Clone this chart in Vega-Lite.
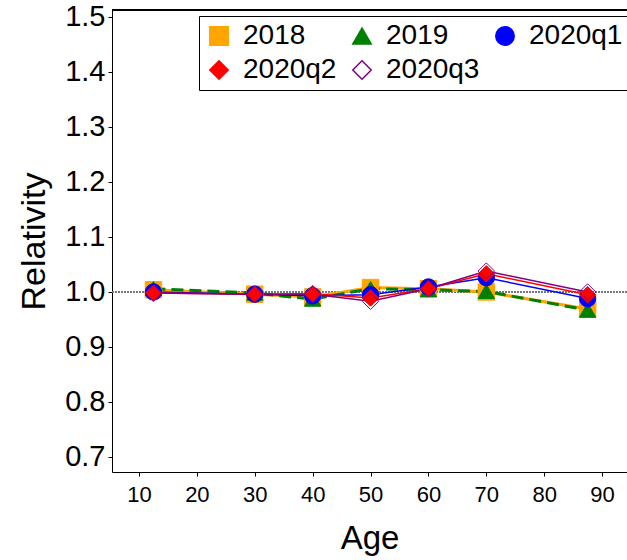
{
  "$schema": "https://vega.github.io/schema/vega-lite/v6.json",
  "width": 515,
  "height": 462,
  "autosize": {"type": "none"},
  "padding": {"left": 112, "top": 10, "right": 0, "bottom": 88},
  "background": "white",
  "config": {
    "view": {"stroke": null},
    "font": "Liberation Sans",
    "axis": {"grid": false, "domainColor": "black", "tickColor": "black", "labelColor": "black", "titleColor": "black", "titleFontWeight": "normal", "labelFont": "Liberation Sans", "titleFont": "Liberation Sans"},
    "legend": {"labelFont": "Liberation Sans"}
  },
  "data": {"values": [
    {"series": "2018", "age": 12.5, "rel": 1.004},
    {"series": "2018", "age": 30, "rel": 0.996},
    {"series": "2018", "age": 40, "rel": 0.991},
    {"series": "2018", "age": 50, "rel": 1.008},
    {"series": "2018", "age": 60, "rel": 1.006},
    {"series": "2018", "age": 70, "rel": 1.000},
    {"series": "2018", "age": 87.5, "rel": 0.969},
    {"series": "2019", "age": 12.5, "rel": 1.006},
    {"series": "2019", "age": 30, "rel": 0.998},
    {"series": "2019", "age": 40, "rel": 0.987},
    {"series": "2019", "age": 50, "rel": 1.006},
    {"series": "2019", "age": 60, "rel": 1.004},
    {"series": "2019", "age": 70, "rel": 1.001},
    {"series": "2019", "age": 87.5, "rel": 0.967},
    {"series": "2020q1", "age": 12.5, "rel": 1.000},
    {"series": "2020q1", "age": 30, "rel": 0.996},
    {"series": "2020q1", "age": 40, "rel": 0.993},
    {"series": "2020q1", "age": 50, "rel": 0.995},
    {"series": "2020q1", "age": 60, "rel": 1.009},
    {"series": "2020q1", "age": 70, "rel": 1.026},
    {"series": "2020q1", "age": 87.5, "rel": 0.988},
    {"series": "2020q2", "age": 12.5, "rel": 0.998},
    {"series": "2020q2", "age": 30, "rel": 0.996},
    {"series": "2020q2", "age": 40, "rel": 0.997},
    {"series": "2020q2", "age": 50, "rel": 0.989},
    {"series": "2020q2", "age": 60, "rel": 1.006},
    {"series": "2020q2", "age": 70, "rel": 1.033},
    {"series": "2020q2", "age": 87.5, "rel": 0.995},
    {"series": "2020q3", "age": 12.5, "rel": 0.998},
    {"series": "2020q3", "age": 30, "rel": 0.996},
    {"series": "2020q3", "age": 40, "rel": 0.996},
    {"series": "2020q3", "age": 50, "rel": 0.983},
    {"series": "2020q3", "age": 60, "rel": 1.006},
    {"series": "2020q3", "age": 70, "rel": 1.038},
    {"series": "2020q3", "age": 87.5, "rel": 1.000}
  ]},
  "encoding": {
    "x": {"field": "age", "type": "quantitative", "scale": {"domain": [5.34, 94.3], "nice": false, "zero": false},
      "axis": {"values": [10, 20, 30, 40, 50, 60, 70, 80, 90], "labelFontSize": 22, "tickSize": 4, "labelPadding": 8, "title": "Age", "titleFontSize": 33, "titlePadding": 17}},
    "y": {"field": "rel", "type": "quantitative", "scale": {"domain": [0.6727, 1.5127], "nice": false, "zero": false},
      "axis": {"values": [0.7, 0.8, 0.9, 1.0, 1.1, 1.2, 1.3, 1.4, 1.5], "format": ".1f", "labelFontSize": 29, "tickSize": 4, "labelPadding": 3, "title": "Relativity", "titleFontSize": 34, "titlePadding": 13}}
  },
  "layer": [
    {
      "mark": {"type": "rule", "color": "#777777", "strokeDash": [1.5, 1.5], "strokeWidth": 0.8},
      "encoding": {"x": null, "y": {"datum": 1, "type": "quantitative", "title": "Relativity"}}
    },
    {
      "mark": {"type": "rule", "color": "black", "strokeWidth": 1},
      "encoding": {"x": null, "y": {"datum": 1.5127, "type": "quantitative", "title": "Relativity"}}
    },
    {
      "transform": [{"filter": "datum.series == '2018'"}],
      "mark": {"type": "line", "color": "#FFA500", "strokeWidth": 3},
      "encoding": {}
    },
    {
      "transform": [{"filter": "datum.series == '2019'"}],
      "mark": {"type": "line", "color": "#008000", "strokeWidth": 3, "strokeDash": [12, 6]},
      "encoding": {}
    },
    {
      "transform": [{"filter": "datum.series != '2018' && datum.series != '2019'"}],
      "mark": {"type": "line", "strokeWidth": 1.5},
      "encoding": {
        "detail": {"field": "series", "type": "nominal"},
        "color": {"field": "series", "type": "nominal", "scale": {"domain": ["2020q1", "2020q2", "2020q3"], "range": ["#0000FF", "#FF0000", "#800080"]}, "legend": null}
      }
    },
    {
      "mark": {"type": "point", "filled": true, "size": 270, "strokeWidth": 1, "opacity": 1},
      "encoding": {
        "shape": {"field": "series", "type": "nominal", "scale": {"domain": ["2018", "2019", "2020q1", "2020q2", "2020q3"], "range": ["square", "triangle-up", "circle", "diamond", "diamond"]},
          "legend": {"orient": "none", "legendX": 87, "legendY": 6, "columns": 3, "direction": "horizontal", "title": null, "strokeColor": "black", "fillColor": "white", "padding": 6, "labelFontSize": 28, "labelColor": "black", "symbolSize": 340, "symbolStrokeWidth": 1.5, "labelOffset": 10, "columnPadding": 11, "rowPadding": 6, "labelLimit": 200}},
        "fill": {"field": "series", "type": "nominal", "scale": {"domain": ["2018", "2019", "2020q1", "2020q2", "2020q3"], "range": ["#FFA500", "#008000", "#0000FF", "#FF0000", "transparent"]}},
        "stroke": {"field": "series", "type": "nominal", "scale": {"domain": ["2018", "2019", "2020q1", "2020q2", "2020q3"], "range": ["#FFA500", "#008000", "#0000FF", "#FF0000", "#800080"]}}
      }
    }
  ]
}
